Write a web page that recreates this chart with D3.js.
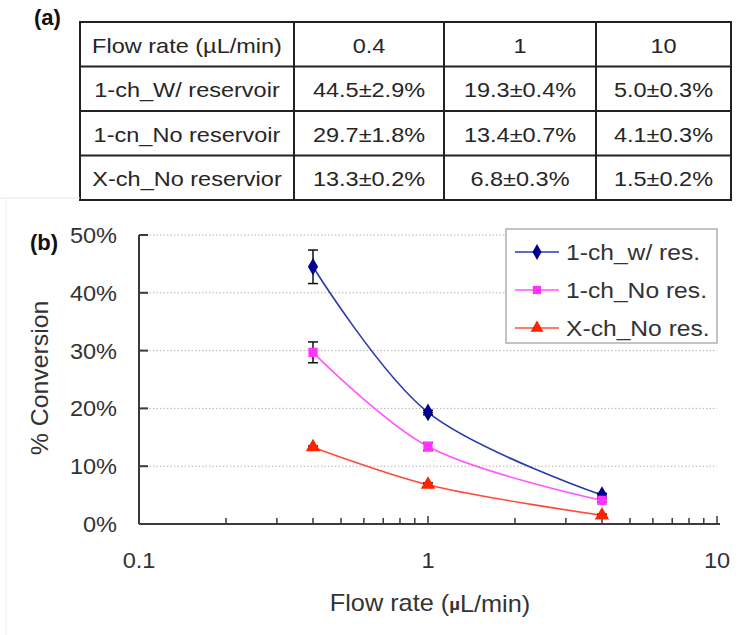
<!DOCTYPE html>
<html lang="en">
<head>
<meta charset="UTF-8">
<title>Conversion vs flow rate</title>
<script src="https://d3js.org/d3.v7.min.js"></script>
<style>
    html, body {
        margin: 0;
        padding: 0;
        background: white;
    }
    svg text {
        font-family: "Liberation Sans", Arial, sans-serif;
    }
</style>
</head>
<body>
<div class="content"></div>
<script>
    // table data (flow rates as written in the table header)
    const headerLabel = "Flow rate (µL/min)";
    const tableRates = [0.4, 1, 10];
    const rowLabels = ["1-ch_W/ reservoir", "1-cn_No reservoir", "X-ch_No reservior"];

    // chart data (x positions as drawn in the plot)
    const plotRates = [0.4, 1, 4];
    const seriesNames = ["1-ch_w/ res.", "1-ch_No res.", "X-ch_No res."];
    const meanW = [44.5, 19.3, 5.0];
    const errW = [2.9, 0.4, 0.3];
    const meanNo = [29.7, 13.4, 4.1];
    const errNo = [1.8, 0.7, 0.3];
    const meanX = [13.3, 6.8, 1.5];
    const errX = [0.2, 0.3, 0.2];
    const yTicks = [0, 10, 20, 30, 40, 50];
    const xTickLabels = [0.1, 1, 10];

    const series = [
        { name: seriesNames[0], mean: meanW, err: errW, line: "#2a3aa8", fill: "#000090", shape: d3.symbolDiamond, size: 90 },
        { name: seriesNames[1], mean: meanNo, err: errNo, line: "#ff55ff", fill: "#ff33ff", shape: d3.symbolSquare, size: 85 },
        { name: seriesNames[2], mean: meanX, err: errX, line: "#ff4a3a", fill: "#ff2200", shape: d3.symbolTriangle, size: 90 }
    ];

    const w = 748;
    const h = 635;

    const svg = d3.select(".content")
        .append("svg")
        .attr("width", w)
        .attr("height", h);

    // text that is a little wider than the font (the source image is stretched sideways)
    function wideText(parent, str, x, y, size, sx, anchor) {
        return parent.append("text")
            .text(str)
            .attr("transform", `translate(${x},${y}) scale(${sx},1)`)
            .attr("dy", "0.36em")
            .attr("text-anchor", anchor || "middle")
            .attr("font-size", size + "px");
    }

    // ---------- (a) table ----------
    const colEdges = [80, 294, 444, 596, 731];
    const rowTop = 22;
    const rowH = 44.5;

    svg.append("text")
        .text("(a)")
        .attr("x", 34)
        .attr("y", 25)
        .attr("font-weight", "bold")
        .attr("font-size", "22px")
        .attr("fill", "#111");

    const rows = [[headerLabel].concat(tableRates.map(String))]
        .concat(rowLabels.map((lab, i) => {
            const s = series[i];
            return [lab].concat(s.mean.map((m, j) => m.toFixed(1) + "±" + s.err[j].toFixed(1) + "%"));
        }));

    const tbl = svg.append("g");

    rows.forEach((row, r) => {
        row.forEach((cell, c) => {
            wideText(tbl, cell, (colEdges[c] + colEdges[c + 1]) / 2, rowTop + rowH * r + rowH / 2 + 1, 21, 1.12)
                .attr("fill", "#262626");
        });
    });

    // horizontal rules
    d3.range(rows.length + 1).forEach(r => {
        tbl.append("line")
            .attr("x1", colEdges[0] - 1).attr("x2", colEdges[colEdges.length - 1] + 1)
            .attr("y1", rowTop + rowH * r).attr("y2", rowTop + rowH * r)
            .attr("stroke", "#222")
            .attr("stroke-width", 2);
    });
    // vertical rules
    colEdges.forEach(xe => {
        tbl.append("line")
            .attr("x1", xe).attr("x2", xe)
            .attr("y1", rowTop).attr("y2", rowTop + rowH * rows.length)
            .attr("stroke", "#222")
            .attr("stroke-width", 2);
    });

    // faint frame of panel (b)
    svg.append("line")
        .attr("x1", 0).attr("x2", 80).attr("y1", 198).attr("y2", 198)
        .attr("stroke", "#e8e8e8");
    svg.append("line")
        .attr("x1", 6).attr("x2", 6).attr("y1", 198).attr("y2", h)
        .attr("stroke", "#ececec");

    // ---------- (b) chart ----------
    const x = d3.scaleLog().domain([0.1, 10]).range([139, 717]);
    const y = d3.scaleLinear().domain([0, 50]).range([524, 235]);
    const axisColor = "#3a3a3a";
    const textColor = "#333";

    svg.append("text")
        .text("(b)")
        .attr("x", 30)
        .attr("y", 250)
        .attr("font-weight", "bold")
        .attr("font-size", "22px")
        .attr("fill", "#111");

    // grid lines
    svg.selectAll("line.grid")
        .data(yTicks.filter(t => t > 0))
        .enter()
        .append("line")
        .attr("class", "grid")
        .attr("x1", x(0.1)).attr("x2", x(10))
        .attr("y1", d => y(d)).attr("y2", d => y(d))
        .attr("stroke", "#b5b5b5")
        .attr("stroke-dasharray", "1.5,2");

    // y axis
    svg.append("line")
        .attr("x1", x(0.1)).attr("x2", x(0.1))
        .attr("y1", y(0)).attr("y2", y(50))
        .attr("stroke", axisColor).attr("stroke-width", 2);

    svg.selectAll("line.ytick")
        .data(yTicks)
        .enter()
        .append("line")
        .attr("class", "ytick")
        .attr("x1", x(0.1)).attr("x2", x(0.1) + 9)
        .attr("y1", d => y(d)).attr("y2", d => y(d))
        .attr("stroke", axisColor).attr("stroke-width", 2);

    yTicks.forEach(t => {
        wideText(svg, t + "%", 117, y(t), 22, 1.07, "end").attr("fill", textColor);
    });

    // x axis
    svg.append("line")
        .attr("x1", x(0.1)).attr("x2", x(10) + 3)
        .attr("y1", y(0)).attr("y2", y(0))
        .attr("stroke", axisColor).attr("stroke-width", 2);

    svg.selectAll("line.xtick")
        .data(x.ticks())
        .enter()
        .append("line")
        .attr("class", "xtick")
        .attr("x1", d => x(d)).attr("x2", d => x(d))
        .attr("y1", y(0))
        .attr("y2", d => xTickLabels.includes(d) ? y(0) - 8 : y(0) - 6)
        .attr("stroke", axisColor).attr("stroke-width", 1.5);

    xTickLabels.forEach(t => {
        wideText(svg, String(t), x(t), 560, 22, 1.07).attr("fill", textColor);
    });

    // axis titles
    const xTitle = svg.append("text")
        .attr("transform", "translate(430,603) scale(1.1,1)")
        .attr("dy", "0.36em")
        .attr("text-anchor", "middle")
        .attr("font-size", "23px")
        .attr("fill", textColor);
    xTitle.append("tspan").text("Flow rate (");
    xTitle.append("tspan").text("µ").attr("font-weight", "bold").attr("font-size", "17px").attr("dy", "-0.1em");
    xTitle.append("tspan").text("L/min)").attr("dy", "0.1em");

    svg.append("text")
        .text("% Conversion")
        .attr("transform", "translate(40,378) rotate(-90) scale(1.08,1)")
        .attr("dy", "0.36em")
        .attr("text-anchor", "middle")
        .attr("font-size", "23px")
        .attr("fill", textColor);

    // series
    const line = d3.line()
        .x((d, i) => x(plotRates[i]))
        .y(d => y(d))
        .curve(d3.curveCatmullRom.alpha(0.5));

    series.forEach(s => {
        const g = svg.append("g");

        g.append("path")
            .datum(s.mean)
            .attr("d", line)
            .attr("fill", "none")
            .attr("stroke", s.line)
            .attr("stroke-width", 1.6);

        // error bars
        s.mean.forEach((m, i) => {
            const cx = x(plotRates[i]);
            const y1 = y(m + s.err[i]);
            const y2 = y(m - s.err[i]);
            g.append("line")
                .attr("x1", cx).attr("x2", cx).attr("y1", y1).attr("y2", y2)
                .attr("stroke", "#111").attr("stroke-width", 1.5);
            [y1, y2].forEach(yy => {
                g.append("line")
                    .attr("x1", cx - 5).attr("x2", cx + 5).attr("y1", yy).attr("y2", yy)
                    .attr("stroke", "#111").attr("stroke-width", 1.5);
            });
        });

        g.selectAll("path.mark")
            .data(s.mean)
            .enter()
            .append("path")
            .attr("class", "mark")
            .attr("d", d3.symbol().type(s.shape).size(s.size))
            .attr("transform", (d, i) => `translate(${x(plotRates[i])},${y(d)})`)
            .attr("fill", s.fill);
    });

    // legend
    const lg = svg.append("g");
    lg.append("rect")
        .attr("x", 506).attr("y", 229)
        .attr("width", 211).attr("height", 114)
        .attr("fill", "white")
        .attr("stroke", "#b0b0b0")
        .attr("stroke-width", 1.5);

    series.forEach((s, i) => {
        const ly = 252 + i * 38;
        lg.append("line")
            .attr("x1", 515).attr("x2", 559).attr("y1", ly).attr("y2", ly)
            .attr("stroke", s.line).attr("stroke-width", 1.6);
        lg.append("path")
            .attr("d", d3.symbol().type(s.shape).size(s.size * 0.8))
            .attr("transform", `translate(537,${ly})`)
            .attr("fill", s.fill);
        wideText(lg, s.name, 566, ly, 22, 1.12, "start").attr("fill", textColor);
    });
</script>
</body>
</html>
